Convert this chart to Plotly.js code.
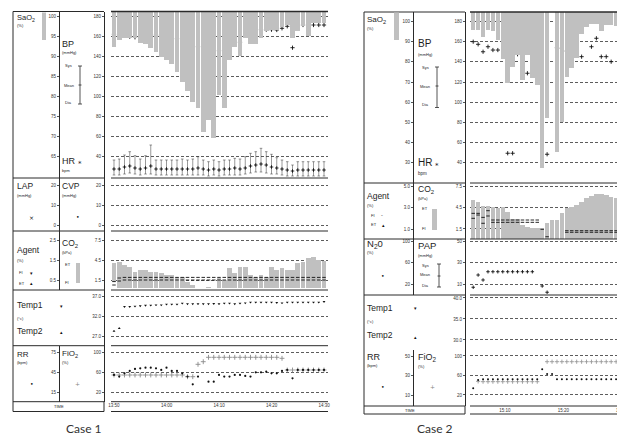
<!DOCTYPE html>
<html><head><meta charset="utf-8">
<script src="https://cdn.plot.ly/plotly-3.0.1.min.js"></script>
<style>html,body{margin:0;padding:0;background:#fff;overflow:hidden}#c{width:617px;height:436px}</style>
</head><body><div id="c"></div>
<script>
// ---------------- DATA : Case 1 (one sample per minute from 13:50) ----------------
const c1TickVals = [0, 10, 20, 30, 40];
const c1TickText = ['13:50', '14:00', '14:10', '14:20', '14:30'];
const c1SaO2 = [92.3, 94, 94.4, 94.4, 94.4, 93.2, 92.9, 92.1, 91.1, 89.8, 89, 87.9, 86.1, 83.6, 81.3, 78.6, 76.9, 71.1, 74, 69.4, 80.3, 77, 89, 92.3, 90, 94.4, 92.9, 92.9, 94.4, 96.3, 96.5, 96.5, 97.3, 97.8, 94.4, 96.3, 97.6, 95.1, 98.2, 98.2, 98.2];
const c1HR = [161.7, 159.3, 160.3, 159.3, 158.7, 158.7, 160, 159.3, 161, 158.3, 157.7, 156.3, 157.3, 156.3, 152.7, 153.7, 149.3, 146.7, 146, 141, 145.3, 148.3, 151, 156, 153.7, 161.7, 158, 166, 166.3, 166.3, 166.3, 166, 167.7, 169.7, 148.3, 168.3, 171, 171, 171, 171, 171];
const c1BPSys = [36, 37, 41, 44.3, 40.3, 37, 40.3, 51, 36, 36, 36, 36, 36, 37, 36, 37, 39.3, 36, 34.3, 36, 34.3, 36, 36, 37.7, 37, 39.3, 42.7, 44.3, 47.7, 44.3, 41.7, 38.3, 36, 34.3, 31, 34.3, 34.3, 34.3, 34.3, 34.3, 34.3];
const c1BPMean = [27, 27, 29, 30, 28, 27, 28, 30, 27, 27, 27, 27, 27, 27, 27, 27, 28, 27, 26, 27, 26, 27, 27, 28, 27, 28, 30, 31, 32, 31, 29, 28, 27, 26, 25, 26, 26, 26, 26, 26, 26];
const c1BPDia = [21, 21, 22, 23, 22, 21, 22, 22, 21, 21, 21, 21, 21, 21, 21, 21, 21, 21, 20, 21, 20, 21, 21, 21, 21, 22, 23, 24, 24, 23, 22, 22, 21, 20, 20, 20, 20, 20, 20, 20, 20];
const c1CO2Et = [4.0, 4.25, 3.75, 3.4, 2.75, 3.0, 3.0, 2.75, 2.75, 2.5, 2.25, 2.25, 2.0, 2.0, 1.25, 0.75, null, null, 0.5, 0.25, 1.75, 1.5, 3.25, 2.5, 3.5, 3.5, 2.25, 2.0, 2.25, 2.0, 3.5, 3.0, 3.25, 3.0, 3.0, 4.1, 4.25, 4.75, 4.9, 4.5, 4.4];
const c1CO2Fi = [1.2, 0.3, 0.3, 0.3, 0.3, 0.3, 0.3, 0.3, 0.3, 0.3, 0.3, 0.3, 0.3, 0.3, 0.3, 0.3, null, null, 0.3, 0.3, 0.3, 0.3, 0.3, 0.3, 0.3, 0.3, 0.3, 0.3, 0.3, 0.3, 0.3, 0.3, 0.3, 0.3, 0.3, 0.3, 0.3, 0.3, 0.3, 0.3, 0.3];
const c1AgentFi = [0.42, 0.6, 0.63, 0.63, 0.63, 0.63, 0.63, 0.63, 0.63, 0.63, 0.63, 0.63, 0.63, 0.63, 0.63, 0.63, 0.63, 0.63, 0.63, 0.63, 0.63, 0.63, 0.63, 0.63, 0.63, 0.63, 0.63, 0.63, 0.63, 0.63, 0.63, 0.63, 0.63, 0.63, 0.63, 0.63, 0.63, 0.63, 0.63, 0.63, 0.63];
const c1AgentEt = [0.25, 0.45, 0.5, 0.5, 0.5, 0.5, 0.5, 0.5, 0.5, 0.5, 0.5, 0.5, 0.5, 0.5, 0.5, 0.5, 0.5, 0.5, 0.5, 0.5, 0.5, 0.5, 0.5, 0.5, 0.5, 0.5, 0.5, 0.5, 0.5, 0.5, 0.5, 0.5, 0.5, 0.5, 0.5, 0.5, 0.5, 0.5, 0.5, 0.5, 0.5];
const c1Temp1 = [null, null, 34.5, 34.5, 34.6, 34.7, 34.8, 34.85, 34.9, 34.9, 35.1, 35.1, 35.1, 35.35, 35.2, 35.2, 35.2, 35.2, 35.2, 35.25, 35.2, 35.35, 35.35, 35.2, 35.35, 35.4, 35.6, 35.6, 35.6, 35.6, 35.6, 35.5, 35.4, 35.6, 35.6, 35.6, 35.6, 35.6, 35.6, 35.6, 35.75];
const c1Temp2 = [28.4, 29.1, null, null, null, null, null, null, null, null, null, null, null, null, null, null, null, null, null, null, null, null, null, null, null, null, null, null, null, null, null, null, null, null, null, null, null, null, null, null, null];
const c1FiO2 = [54.6, 54.6, 54.6, 54.6, 54.6, 54.6, 54.6, 54.6, 54.6, 54.6, 54.6, 54.6, 54.6, 54.6, 51.2, 51.2, 76, 81.2, 90, 90, 90, 90, 90, 90, 90, 90, 90, 90, 90, 90, 90, 90, 88, 64.6, 64.6, 64.6, 64.6, 64.6, 64.6, 64.6, 64.6];
const c1RR = [41, 38.6, 43.5, 47, 50, 51, 52, 52, 51, 48.5, 52, 47, 47, 43.5, 38.6, 27, 38.6, null, 31, 31, 41, 38.6, 38.6, 41, 41, 39.5, 38.6, 45, 45, 46, 43.5, 43.5, 47, 48.5, 36, 48.5, 48.5, 48.5, 48.5, 48.5, 48.5];
const c1LAP = [];
const c1CVP = [];

// ---------------- DATA : Case 2 (sampled about every 50 s, minutes after 15:00) ----------------
const c2TickVals = [10, 20, 30];
const c2TickText = ['15:10', '15:20', '15:30'];
const C2_T0 = 4.55, C2_DT = 0.845;
const c2SaO2 = [95.9, 95.9, 92.5, 95.9, 95.4, 90.9, 81.4, 69.4, 77.6, 83.4, 71, 83.4, 71.8, 68.5, 27.1, 51.9, null, 35.3, 50.2, 72.6, 76.8, 81.8, 93.7, 97.5, 98.7, 98.7, 95.4, 98.4, 98.4, 98];
const c2HR = [160.1, 157.5, 150.1, 155.1, 151.8, 151.8, null, 49.1, 49.1, 147.6, 144.2, 128.7, 149.2, 149.2, null, 48.1, null, 154.1, 153.5, 150.8, 147.6, 155.1, 145.2, null, 155.1, 163.5, 145.2, 145.2, 140.2, null];
const c2CO2Et = [5.61, 5.37, 4.76, 4.76, 4.66, 4.44, 4.58, 3.95, 2.88, 2.88, 2.07, 1.83, 1.69, 1.69, 1.6, 2.31, 2.78, 2.78, 3.72, 4.44, 4.66, 4.9, 5.37, 5.85, 6.18, 6.42, 6.46, 6.32, 6.08, 5.85];
const c2CO2Fi = [0.1, 0.1, 0.1, 0.1, 0.1, 0.1, 0.1, 0.1, 0.1, 0.1, 0.1, 0.1, 0.1, 0.1, 0.1, 0.1, 0.1, 0.1, 0.1, 0.1, 0.1, 0.1, 0.1, 0.1, 0.1, 0.1, 0.1, 0.1, 0.1, 0.1];
const c2AgentFi = [2.48, 2.48, 2.1, 2.73, 1.85, 1.85, 1.85, 1.85, 1.85, 1.85, 1.85, 1.85, 1.85, 1.85, 0.97, null, null, null, null, 0.84, 0.84, 0.84, 0.84, 0.84, 0.84, 0.84, 0.84, 0.84, 0.84, 0.84];
const c2AgentEt = [2.01, 2.32, 1.54, 2.23, 1.63, 1.63, 1.63, 1.63, 1.63, 1.63, 1.63, 1.63, 1.63, 1.63, null, 0.27, null, null, null, 0.69, 0.69, 0.69, 0.69, 0.69, 0.69, 0.69, 0.69, 0.69, 0.69, 0.69];
const c2PAP = [6.9, 18.5, 13.8, 21.6, 21.6, 21.6, 21.6, 21.6, 21.6, 21.6, 21.6, 21.6, 21.6, null, 8.1, 2.2, null, null, null, null, null, null, null, null, null, null, null, null, null, null];
const c2RR = [16.9, 25.4, 26.1, 26.1, 26.1, 26.1, 26.1, 26.1, 26.1, 26.1, 26.1, 26.1, 26.1, 26.1, 36.4, 31.5, 31.5, 26.1, 26.1, 26.1, 26.1, 26.1, 26.1, 26.1, 26.1, 26.1, 26.1, 26.1, 26.1, 26.1];
const c2FiO2 = [null, 48, 47.3, 47.3, 47.3, 47.3, 47.3, 47.3, 47.3, 47.3, 47.3, 47.3, 47.3, 47.3, null, 88.3, 88.3, 88.3, 88.3, 88.3, 88.3, 88.3, 88.3, 88.3, 88.3, 88.3, 88.3, 88.3, 88.3, 88.3];
const c2N2O = [];
const c2Temp1 = [];

// ---------------- helpers ----------------
const W = 617, H = 436;
const X = x => x / W;
const Y = y => 1 - y / H;
const dom = (t, b) => [Y(b), Y(t)];
const FONT = 'Liberation Sans, Arial, sans-serif';
const INK = '#2a2a2a';
const GRAY = '#c0c0c0';
const TXT = '#1e1e1e';

const c1Time = c1SaO2.map((_, i) => i);
const c2Time = c2SaO2.map((_, i) => C2_T0 + i * C2_DT);

const S1 = [59.5, 101.125];   // SaO2 range case 1
const S2 = [19.75, 104.83];   // SaO2 range case 2

function yax(o) {
  return Object.assign({
    anchor: 'free', showline: true, linecolor: INK, linewidth: 1,
    ticks: 'outside', ticklen: 2, tickwidth: 0.8, tickcolor: INK,
    tickfont: {size: 4.5, color: '#333', family: FONT},
    zeroline: false, showgrid: false, tickmode: 'array', fixedrange: true
  }, o);
}
const grid = {showgrid: true, griddash: '3px,2px', gridcolor: '#333', gridwidth: 0.8};

// ---------------- traces ----------------
const plus = (color, size) => ({symbol: 'cross-thin', size: size || 3, line: {width: 0.9, color: color || '#111'}});
const data = [
  // Case 1
  {type: 'bar', x: c1Time, base: S1[1], y: c1SaO2.map(v => v == null ? null : v - S1[1]), xaxis: 'x', yaxis: 'y2', marker: {color: GRAY, line: {width: 0}}, width: 0.9},
  {type: 'scatter', mode: 'markers', x: c1Time, y: c1HR, xaxis: 'x', yaxis: 'y', marker: plus()},
  {type: 'scatter', mode: 'markers', x: c1Time, y: c1BPMean, xaxis: 'x', yaxis: 'y', marker: plus('#111', 2.5),
    error_y: {type: 'data', symmetric: false, array: c1BPSys.map((s, i) => s - c1BPMean[i]), arrayminus: c1BPMean.map((m, i) => m - c1BPDia[i]), color: '#333', thickness: 0.5, width: 1.3}},
  {type: 'scatter', mode: 'markers', x: c1LAP.map((_, i) => i), y: c1LAP, xaxis: 'x', yaxis: 'y4'},
  {type: 'scatter', mode: 'markers', x: c1CVP.map((_, i) => i), y: c1CVP, xaxis: 'x', yaxis: 'y3'},
  {type: 'bar', x: c1Time, base: c1CO2Fi, y: c1CO2Et.map((v, i) => v == null ? null : v - c1CO2Fi[i]), xaxis: 'x', yaxis: 'y5', marker: {color: GRAY, line: {width: 0}}, width: 0.9},
  {type: 'scatter', mode: 'markers', x: c1Time, y: c1AgentFi, xaxis: 'x', yaxis: 'y6', marker: {symbol: 'line-ew', size: 2.5, line: {width: 0.9, color: '#111'}}},
  {type: 'scatter', mode: 'markers', x: c1Time, y: c1AgentEt, xaxis: 'x', yaxis: 'y6', marker: {symbol: 'line-ew', size: 2.5, line: {width: 0.9, color: '#111'}}},
  {type: 'scatter', mode: 'markers', x: c1Time, y: c1Temp1, xaxis: 'x', yaxis: 'y7', marker: {symbol: 'triangle-down', size: 2.5, color: '#111'}},
  {type: 'scatter', mode: 'markers', x: c1Time, y: c1Temp2, xaxis: 'x', yaxis: 'y7', marker: {symbol: 'triangle-up', size: 2.5, color: '#111'}},
  {type: 'scatter', mode: 'markers', x: c1Time, y: c1FiO2, xaxis: 'x', yaxis: 'y8', marker: plus('#8a8a8a', 3.5)},
  {type: 'scatter', mode: 'markers', x: c1Time, y: c1RR, xaxis: 'x', yaxis: 'y9', marker: {symbol: 'circle', size: 2.2, color: '#111'}},
  // Case 2
  {type: 'bar', x: c2Time, base: S2[1], y: c2SaO2.map(v => v == null ? null : v - S2[1]), xaxis: 'x2', yaxis: 'y11', marker: {color: GRAY, line: {width: 0}}, width: 0.78},
  {type: 'scatter', mode: 'markers', x: c2Time, y: c2HR, xaxis: 'x2', yaxis: 'y10', marker: plus()},
  {type: 'bar', x: c2Time, base: c2CO2Fi, y: c2CO2Et.map((v, i) => v == null ? null : v - c2CO2Fi[i]), xaxis: 'x2', yaxis: 'y12', marker: {color: GRAY, line: {width: 0}}, width: 0.78},
  {type: 'scatter', mode: 'markers', x: c2Time, y: c2AgentFi, xaxis: 'x2', yaxis: 'y13', marker: {symbol: 'line-ew', size: 2.5, line: {width: 0.9, color: '#111'}}},
  {type: 'scatter', mode: 'markers', x: c2Time, y: c2AgentEt, xaxis: 'x2', yaxis: 'y13', marker: {symbol: 'line-ew', size: 2.5, line: {width: 0.9, color: '#111'}}},
  {type: 'scatter', mode: 'markers', x: c2Time, y: c2PAP, xaxis: 'x2', yaxis: 'y14', marker: plus('#111', 2.5)},
  {type: 'scatter', mode: 'markers', x: c2N2O.map((_, i) => i), y: c2N2O, xaxis: 'x2', yaxis: 'y15'},
  {type: 'scatter', mode: 'markers', x: c2Temp1.map((_, i) => i), y: c2Temp1, xaxis: 'x2', yaxis: 'y16'},
  {type: 'scatter', mode: 'markers', x: c2Time, y: c2FiO2, xaxis: 'x2', yaxis: 'y17', marker: plus('#999', 3)},
  {type: 'scatter', mode: 'markers', x: c2Time, y: c2RR, xaxis: 'x2', yaxis: 'y18', marker: {symbol: 'circle', size: 2, color: '#111'}}
];

// ---------------- layout ----------------
const fmt1 = v => v.toFixed(1);
const layout = {
  width: W, height: H, margin: {l: 0, r: 0, t: 0, b: 0}, showlegend: false,
  paper_bgcolor: '#fff', plot_bgcolor: 'rgba(0,0,0,0)', barmode: 'overlay', bargap: 0,
  font: {family: FONT, color: INK},
  xaxis: {domain: [X(111), X(328)], range: [-0.57, 40.76], anchor: 'y8', showgrid: false, zeroline: false, showline: false, ticks: '',
    tickmode: 'array', tickvals: c1TickVals, ticktext: c1TickText, tickfont: {size: 4.5, color: '#333'}, fixedrange: true},
  yaxis: yax(Object.assign({domain: dom(11.5, 178), range: [18, 184.5], position: X(104), tickvals: [40, 60, 80, 100, 120, 140, 160, 180]}, grid)),
  yaxis2: yax({overlaying: 'y', position: X(59), range: S1, tickvals: [65, 70, 75, 80, 85, 90, 95, 100]}),
  yaxis3: yax(Object.assign({domain: dom(178, 231), range: [-3, 23.5], position: X(104), tickvals: [0, 10, 20]}, grid)),
  yaxis4: yax({overlaying: 'y3', position: X(59), range: [-3, 23.5], tickvals: [0, 10, 20]}),
  yaxis5: yax(Object.assign({domain: dom(231, 290), range: [0, 8.85], position: X(104), tickvals: [1.5, 4.5, 7.5], ticktext: [1.5, 4.5, 7.5].map(fmt1)}, grid)),
  yaxis6: yax({overlaying: 'y5', position: X(59), range: [0, 2.95], tickvals: [0.5, 1.5, 2.5], ticktext: [0.5, 1.5, 2.5].map(fmt1)}),
  yaxis7: yax(Object.assign({domain: dom(290, 345.7), range: [24.75, 38.675], position: X(104), tickvals: [27, 32, 37], ticktext: [27, 32, 37].map(fmt1)}, grid)),
  yaxis8: yax(Object.assign({domain: dom(345.7, 401.7), range: [1.2, 113.2], position: X(104), tickvals: [20, 60, 100]}, grid)),
  yaxis9: yax({overlaying: 'y8', position: X(59), range: [0.9, 84.9], tickvals: [15, 45, 75]}),

  xaxis2: {domain: [X(470), 1], range: [4.0, 29.21], anchor: 'y17', showgrid: false, zeroline: false, showline: false, ticks: '',
    tickmode: 'array', tickvals: c2TickVals, ticktext: c2TickText, tickfont: {size: 4.5, color: '#333'}, fixedrange: true},
  yaxis10: yax(Object.assign({domain: dom(12, 183), range: [19.5, 189.65], position: X(465), tickvals: [40, 60, 80, 100, 120, 140, 160, 180]}, grid)),
  yaxis11: yax({overlaying: 'y10', position: X(413), range: S2, tickvals: [30, 40, 50, 60, 70, 80, 90, 100]}),
  yaxis12: yax(Object.assign({domain: dom(183, 239), range: [0.08, 8.02], position: X(465), tickvals: [1.5, 4.5, 7.5], ticktext: [1.5, 4.5, 7.5].map(fmt1)}, grid)),
  yaxis13: yax({overlaying: 'y12', position: X(413), range: [0.054, 5.35], tickvals: [1, 3, 5], ticktext: [1, 3, 5].map(fmt1)}),
  yaxis14: yax(Object.assign({domain: dom(239, 295), range: [-0.4, 52.55], position: X(465), tickvals: [10, 30, 50]}, grid)),
  yaxis15: yax({overlaying: 'y14', position: X(413), range: [-0.8, 105.1], tickvals: [20, 60, 100]}),
  yaxis16: yax(Object.assign({domain: dom(295, 350), range: [27.6, 40.71], position: X(465), tickvals: [30, 35, 40], ticktext: [30, 35, 40].map(fmt1)}, grid)),
  yaxis17: yax(Object.assign({domain: dom(350, 406), range: [-2.6, 112.3], position: X(465), tickvals: [20, 60, 100]}, grid)),
  yaxis18: yax({overlaying: 'y17', position: X(413), range: [-1.28, 56.15], tickvals: [10, 30, 50]})
};

// ---------------- frame lines, legend glyphs ----------------
const shapes = [];
const L = (x0, y0, x1, y1, w, c) => shapes.push({type: 'line', xref: 'paper', yref: 'paper', x0: X(x0), y0: Y(y0), x1: X(x1), y1: Y(y1), line: {color: c || INK, width: w || 1}});
const R = (x0, y0, x1, y1) => shapes.push({type: 'rect', xref: 'paper', yref: 'paper', x0: X(x0), y0: Y(y1), x1: X(x1), y1: Y(y0), fillcolor: GRAY, line: {width: 0}});
const IBAR = (x, y0, y1, ym) => { L(x, y0, x, y1, 0.8); L(x - 2, y0, x + 2, y0, 0.8); L(x - 2, y1, x + 2, y1, 0.8); L(x - 1.5, ym, x + 1.5, ym, 0.8); };

// case 1 frame
[11.5, 178, 231, 290, 345.7, 401.7, 411.5].forEach((y, i) => { L(13, y, 104, y); L(111, y, 328, y, i === 0 ? 1.6 : 1); });
L(13, 11.5, 13, 411.5); L(104, 401.7, 104, 411.5);
// case 2 frame
[12, 183, 239, 295, 406, 414].forEach((y, i) => { L(364, y, 465, y); L(470, y, 617, y, i === 0 ? 1.4 : 1); });
L(364, 12, 364, 414); L(465, 406, 465, 414);

R(42, 12.5, 46, 40); R(76, 263, 80, 283);
R(394, 12.5, 399, 40); R(432, 209, 437, 230);
IBAR(80, 66, 104, 85); IBAR(437, 67, 107.5, 86); IBAR(439, 264, 287, 276);

const ann = [];
const T = (x, y, text, size, o) => ann.push(Object.assign({xref: 'paper', yref: 'paper', x: X(x), y: Y(y), text, showarrow: false, xanchor: 'left', yanchor: 'middle', borderpad: 0, font: {family: FONT, size, color: TXT}}, o || {}));
const G = (x, y, ch, size, color) => T(x, y, ch, size, {xanchor: 'center', font: {family: 'DejaVu Sans', size, color: color || '#111'}});

// case 1 labels
T(16, 18, 'SaO<sub>2</sub>', 7.5); T(16, 26, '(%)', 4);
T(61, 44, 'BP', 9); T(61, 52.5, '(mmHg)', 4);
T(64, 66, 'Sys', 4); T(63, 85, 'Mean', 4); T(64, 103, 'Dia', 4);
T(61, 161, 'HR', 9); T(61, 170, 'bpm', 4); G(80, 164, '*', 7);
T(16, 186.5, 'LAP', 8.5); T(16, 195.5, '(mmHg)', 4); G(31.5, 217.5, '×', 6);
T(61, 186.5, 'CVP', 8.5); T(61, 195.5, '(mmHg)', 4); G(78, 216.7, '•', 6);
T(16, 250, 'Agent', 8.5); T(16, 260, '(%)', 4);
T(18, 272, 'FI', 4); G(31.5, 272.5, '▾', 5); T(18, 283, 'ET', 4); G(31.5, 283, '▴', 5);
T(61, 243, 'CO<sub>2</sub>', 8.5); T(61, 252, '(kPa)', 4); T(64, 264, 'ET', 4); T(64, 282, 'FI', 4);
T(16, 305, 'Temp1', 8.5); G(61, 306, '▾', 5); T(16, 318, '(°c)', 4); T(16, 331, 'Temp2', 8.5); G(61, 331.5, '▴', 5);
T(16, 354, 'RR', 8); T(16, 362, '(bpm)', 4); G(31.5, 383, '•', 6);
T(61, 354, 'FiO<sub>2</sub>', 8); T(61, 362, '(%)', 4); G(78, 383, '+', 6, '#888');
T(58.5, 406.7, 'TIME', 4, {xanchor: 'center'});

// case 2 labels
T(366, 20, 'SaO<sub>2</sub>', 8); T(366, 28, '(%)', 4);
T(417, 43.5, 'BP', 10); T(417, 54, '(mmHg)', 4);
T(421, 67.7, 'Sys', 4); T(419, 86, 'Mean', 4); T(421, 104.3, 'Dia', 4);
T(417, 162.7, 'HR', 10); T(417, 173.3, 'bpm', 4.5); G(437, 166, '*', 7);
T(366, 196, 'Agent', 8.5); T(366, 205, '(%)', 4);
T(370, 215, 'FI', 4); G(382, 215, '-', 5); T(370, 225, 'ET', 4); G(383, 225, '▴', 5);
T(417, 189, 'CO<sub>2</sub>', 8.5); T(417, 198, '(kPa)', 4); T(421, 209, 'ET', 4); T(421, 228, 'FI', 4);
T(366, 244, 'N<sub>2</sub>0', 9.5); T(366, 252.5, '(%)', 4); G(383, 275, '•', 6);
T(417, 245, 'PAP', 9.5); T(417, 255, '(mmHg)', 4);
T(421, 265, 'Sys', 4); T(419, 274.3, 'Mean', 4); T(421, 285, 'Dia', 4);
T(366, 308, 'Temp1', 8.5); G(415, 308, '▾', 5); T(366, 321.7, '(°c)', 4); T(366, 335, 'Temp2', 8.5); G(415, 336.7, '▴', 5);
T(366, 356.7, 'RR', 9); T(366, 365, '(bpm)', 4); G(383, 386.7, '•', 6);
T(417, 357, 'FiO<sub>2</sub>', 9); T(417, 366.7, '(%)', 4); G(433, 386.7, '+', 6, '#888');
T(410, 410.5, 'TIME', 4, {xanchor: 'center'});
// last time label of case 2: its tick falls just beyond the right edge, so only part of it shows
const c2PxPerMin = (617 - 470) / (29.21 - 4.0);
T(470 + (c2TickVals[2] - 4.0) * c2PxPerMin, 410.8, c2TickText[2], 4.5, {xanchor: 'center', font: {family: FONT, size: 4.5, color: '#333'}});

// captions
T(84, 428, 'Case 1', 12, {xanchor: 'center', font: {family: 'Lato, Open Sans, sans-serif', size: 12, color: '#333'}});
T(435, 428, 'Case 2', 12, {xanchor: 'center', font: {family: 'Lato, Open Sans, sans-serif', size: 12, color: '#333'}});

layout.shapes = shapes;
layout.annotations = ann;

Plotly.newPlot('c', data, layout, {staticPlot: true, displayModeBar: false});
</script>
</body></html>
